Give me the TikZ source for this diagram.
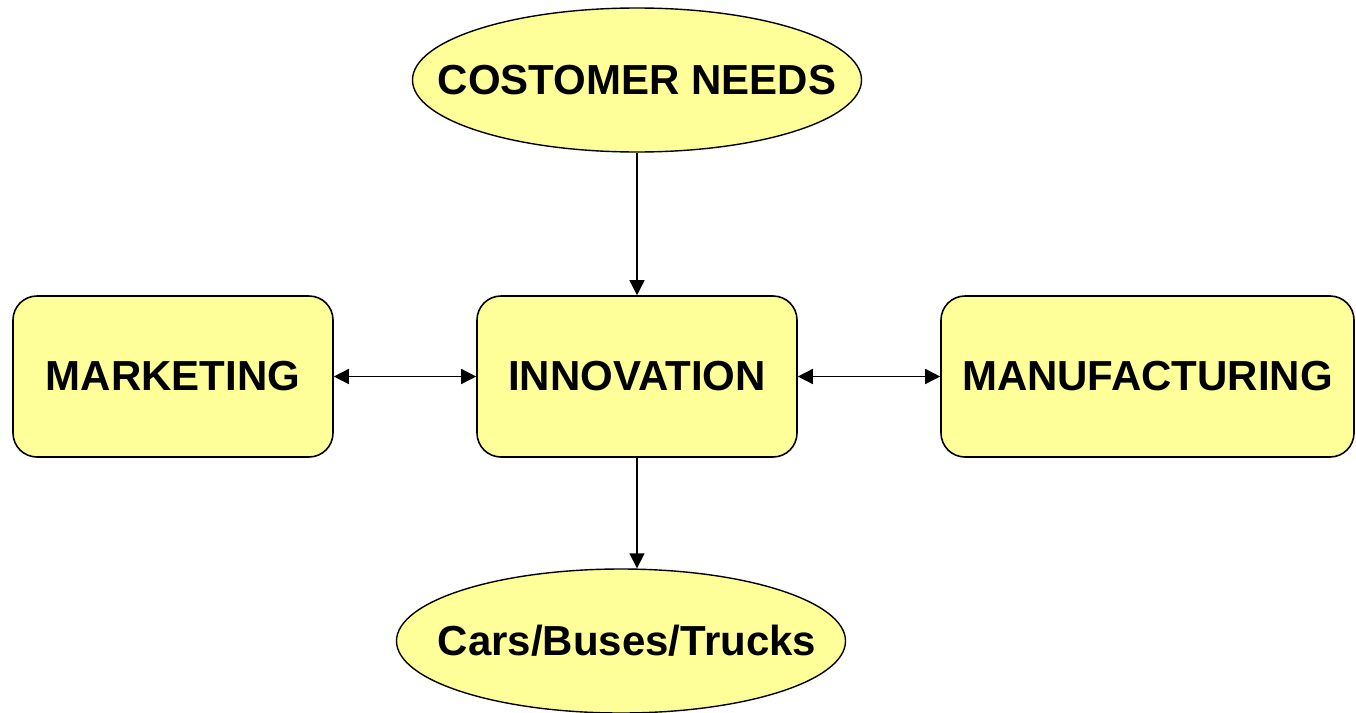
\documentclass[tikz,border=0pt]{standalone}
\usepackage{fontspec}
\setmainfont{Liberation Sans}
\usetikzlibrary{shapes.geometric,arrows.meta}
\definecolor{boxyellow}{HTML}{FFFF99}
\begin{document}
\begin{tikzpicture}[x=1pt,y=-1pt,
  lbl/.style={font=\fontsize{42}{48}\selectfont\bfseries,inner sep=0pt},
  rbox/.style={lbl,draw=black,line width=1.6pt,fill=boxyellow,rounded corners=24pt,minimum height=161pt,inner sep=0pt},
  ell/.style={draw=black,line width=1.4pt,fill=boxyellow,ellipse,minimum width=449pt,minimum height=144pt,inner sep=0pt},
  conn/.style={line width=1.5pt,-{Triangle[length=15pt,width=15pt]}},
  dconn/.style={line width=1.5pt,{Triangle[length=15pt,width=15pt]}-{Triangle[length=15pt,width=15pt]}}]
\useasboundingbox (0,0) rectangle (1356,712);
\node[ell] (cust) at (637,80) {};
\node[lbl] (custtxt) at (637,80) {COSTOMER NEEDS};
\node[rbox,minimum width=320pt] (mkt) at (173,376.5) {MARKETING};
\node[rbox,minimum width=320pt] (innov) at (637,376.5) {INNOVATION};
\node[rbox,minimum width=413pt] (manu) at (1147.5,376.5) {MANUFACTURING};
\node[ell] (cars) at (621,641) {};
\node[lbl] (carstxt) at (627,641) {Cars/Buses/Trucks};
\draw[conn] (cust) -- (innov);
\draw[conn] (innov.south) -- (innov.south |- cars.north);
\draw[dconn] (mkt) -- (innov);
\draw[dconn] (innov) -- (manu);
\end{tikzpicture}
\end{document}
